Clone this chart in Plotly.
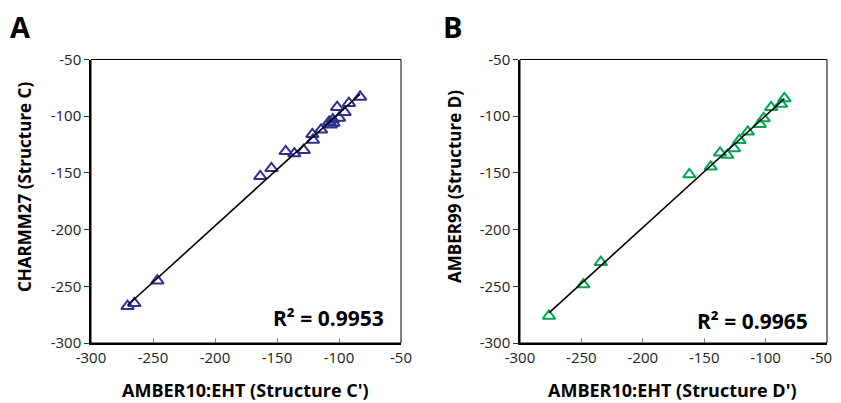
import numpy as np
import plotly.graph_objects as go

# page has an 8px body margin, so the figure is 8px smaller and shifted
OFF = 8
W, H = 841 - OFF, 403 - OFF

# panel A: AMBER10:EHT (Structure C') vs CHARMM27 (Structure C)
a_x = [-270.5, -265, -246.5, -163.5, -154.5, -143, -136, -128.5, -121.5, -121,
       -114.5, -108, -106.5, -104.5, -105, -101.5, -100, -95.5, -92, -83]
a_y = [-267.5, -265, -245, -153, -146, -131, -133, -130, -116, -121,
       -112, -105, -107.5, -106, -103, -92, -101.5, -96.5, -88.5, -83]
a_r2 = "R² = 0.9953"

# panel B: AMBER10:EHT (Structure D') vs AMBER99 (Structure D)
b_x = [-276.4, -248.4, -234.2, -162.1, -144.7, -137.1, -131.2, -125.8, -121.3,
       -114.5, -104.8, -101.6, -95.5, -87.4, -84.7]
b_y = [-276.2, -248.5, -228.8, -151.4, -144.6, -132.3, -134.3, -128.4, -121.1,
       -113.8, -107, -102, -92.2, -89.3, -84.3]
b_r2 = "R² = 0.9965"

tick_vals = [-300, -250, -200, -150, -100, -50]
tick_text = ["-300", "-250", "-200", "-150", "-100", "-50"]

blue = "#2e3192"
green = "#00a651"
font_fam = "Open Sans, Lato, sans-serif"

fig = go.Figure()

def add_panel(xs, ys, color, xa, ya):
    fig.add_trace(go.Scatter(x=xs, y=ys, mode="markers", xaxis=xa, yaxis=ya,
                             marker=dict(symbol="triangle-up-open", size=11,
                                         color=color, line=dict(width=2, color=color)),
                             showlegend=False))
    k, b = np.polyfit(xs, ys, 1)
    lx = np.array([min(xs), max(xs)])
    fig.add_trace(go.Scatter(x=lx, y=k * lx + b, mode="lines", xaxis=xa, yaxis=ya,
                             line=dict(color="black", width=1.6), showlegend=False))

add_panel(a_x, a_y, blue, "x", "y")
add_panel(b_x, b_y, green, "x2", "y2")

# plot areas in screen pixels (left, right, top, bottom)
boxes = {"": (91, 401, 59.5, 343), "2": (520, 827, 59.5, 343)}

def px(v):
    return (v - OFF) / W

def py(v):
    return 1 - (v - OFF) / H

for sfx, (l, r, t, b) in boxes.items():
    xt = list(tick_text)
    if sfx == "2":
        # nudge the last label left so it stays inside the page
        xt[-1] = xt[-1] + "\u00a0\u00a0\u00a0"
    fig.layout["xaxis" + sfx] = dict(
        domain=[px(l), px(r)], range=[-300, -50], tickvals=tick_vals, ticktext=xt,
        anchor="y" + sfx, showgrid=False, zeroline=False, automargin=False,
        ticklabeloverflow="allow",
        showline=True, linecolor="black", linewidth=1.5,
        ticks="inside", ticklen=5, tickcolor="#888", tickwidth=1,
        tickfont=dict(family=font_fam, size=15, color="#222"))
    fig.layout["yaxis" + sfx] = dict(
        domain=[py(b), py(t)], range=[-300, -50], tickvals=tick_vals, ticktext=tick_text,
        anchor="x" + sfx, showgrid=False, zeroline=False, automargin=False,
        ticklabeloverflow="allow",
        showline=True, linecolor="black", linewidth=1.5,
        ticks="outside", ticklen=5, tickcolor="#333", tickwidth=1,
        tickfont=dict(family=font_fam, size=15, color="#222"))
    # thin top/right frame
    fig.add_shape(type="rect", xref="x" + sfx + " domain", yref="y" + sfx + " domain",
                  x0=0, x1=1, y0=0, y1=1, line=dict(color="black", width=1))

def ann(text, x, y, size, angle=0):
    fig.add_annotation(text="<b>%s</b>" % text,
                       x=px(x), y=py(y), xref="paper", yref="paper",
                       xanchor="center", yanchor="middle",
                       showarrow=False, textangle=angle,
                       font=dict(family=font_fam, size=size, color="black"))

ann("A", 20, 26, 29)
ann("B", 452, 26, 29)
ann("AMBER10:EHT (Structure C')", 245, 390, 18)
ann("AMBER10:EHT (Structure D')", 672, 390, 18)
ann("CHARMM27 (Structure C)", 24, 187, 17, angle=-90)
ann("AMBER99 (Structure D)", 454, 187, 17, angle=-90)
ann(a_r2, 328, 318, 21)
ann(b_r2, 752, 321, 21)

fig.update_layout(width=W, height=H, margin=dict(l=0, r=0, t=0, b=0),
                  paper_bgcolor="white", plot_bgcolor="white",
                  font=dict(family=font_fam))

fig.write_html("out.html")
